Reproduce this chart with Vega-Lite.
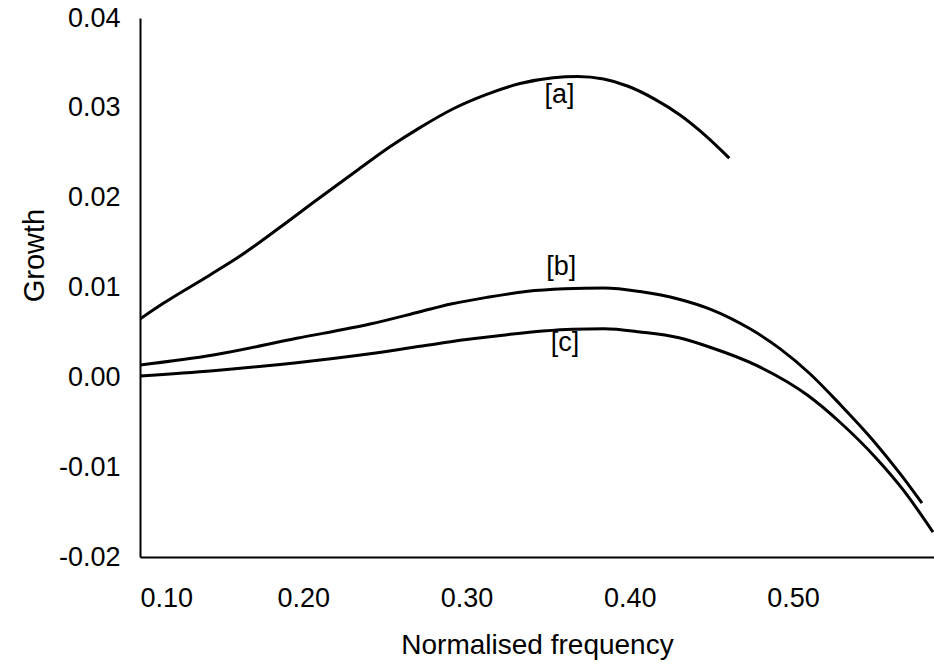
{
  "$schema": "https://vega.github.io/schema/vega-lite/v6.json",
  "width": 794,
  "height": 539,
  "autosize": {"type": "none"},
  "padding": {"left": 140, "top": 18, "right": 0, "bottom": 109},
  "background": "white",
  "config": {
    "view": {"stroke": null},
    "font": "Liberation Sans",
    "axis": {
      "grid": false,
      "domainColor": "black",
      "domainWidth": 2,
      "ticks": false,
      "labelColor": "black",
      "titleColor": "black",
      "labelFont": "Liberation Sans",
      "titleFont": "Liberation Sans",
      "titleFontWeight": "normal"
    }
  },
  "datasets": {
    "curves": [
      {"curve": "a", "f": 0.1000, "g": 0.00650},
      {"curve": "a", "f": 0.1143, "g": 0.00824},
      {"curve": "a", "f": 0.1429, "g": 0.01140},
      {"curve": "a", "f": 0.1613, "g": 0.01350},
      {"curve": "a", "f": 0.1858, "g": 0.01670},
      {"curve": "a", "f": 0.2082, "g": 0.01974},
      {"curve": "a", "f": 0.2327, "g": 0.02300},
      {"curve": "a", "f": 0.2531, "g": 0.02567},
      {"curve": "a", "f": 0.2715, "g": 0.02780},
      {"curve": "a", "f": 0.2919, "g": 0.02990},
      {"curve": "a", "f": 0.3124, "g": 0.03150},
      {"curve": "a", "f": 0.3328, "g": 0.03270},
      {"curve": "a", "f": 0.3532, "g": 0.03335},
      {"curve": "a", "f": 0.3680, "g": 0.03348},
      {"curve": "a", "f": 0.3840, "g": 0.03320},
      {"curve": "a", "f": 0.3990, "g": 0.03240},
      {"curve": "a", "f": 0.4150, "g": 0.03100},
      {"curve": "a", "f": 0.4308, "g": 0.02920},
      {"curve": "a", "f": 0.4471, "g": 0.02680},
      {"curve": "a", "f": 0.4610, "g": 0.02440},
      {"curve": "b", "f": 0.1000, "g": 0.00137},
      {"curve": "b", "f": 0.1449, "g": 0.00248},
      {"curve": "b", "f": 0.1960, "g": 0.00434},
      {"curve": "b", "f": 0.2409, "g": 0.00593},
      {"curve": "b", "f": 0.2715, "g": 0.00730},
      {"curve": "b", "f": 0.2905, "g": 0.00816},
      {"curve": "b", "f": 0.3124, "g": 0.00890},
      {"curve": "b", "f": 0.3364, "g": 0.00955},
      {"curve": "b", "f": 0.3600, "g": 0.00985},
      {"curve": "b", "f": 0.3842, "g": 0.00994},
      {"curve": "b", "f": 0.4063, "g": 0.00955},
      {"curve": "b", "f": 0.4302, "g": 0.00870},
      {"curve": "b", "f": 0.4492, "g": 0.00760},
      {"curve": "b", "f": 0.4737, "g": 0.00540},
      {"curve": "b", "f": 0.4920, "g": 0.00320},
      {"curve": "b", "f": 0.5104, "g": 0.00040},
      {"curve": "b", "f": 0.5288, "g": -0.00300},
      {"curve": "b", "f": 0.5490, "g": -0.00700},
      {"curve": "b", "f": 0.5655, "g": -0.01070},
      {"curve": "b", "f": 0.5790, "g": -0.01400},
      {"curve": "c", "f": 0.1000, "g": 0.00014},
      {"curve": "c", "f": 0.1449, "g": 0.00074},
      {"curve": "c", "f": 0.1960, "g": 0.00163},
      {"curve": "c", "f": 0.2409, "g": 0.00262},
      {"curve": "c", "f": 0.2715, "g": 0.00345},
      {"curve": "c", "f": 0.2999, "g": 0.00420},
      {"curve": "c", "f": 0.3250, "g": 0.00475},
      {"curve": "c", "f": 0.3469, "g": 0.00515},
      {"curve": "c", "f": 0.3650, "g": 0.00535},
      {"curve": "c", "f": 0.3842, "g": 0.00540},
      {"curve": "c", "f": 0.4063, "g": 0.00505},
      {"curve": "c", "f": 0.4302, "g": 0.00440},
      {"curve": "c", "f": 0.4492, "g": 0.00335},
      {"curve": "c", "f": 0.4780, "g": 0.00130},
      {"curve": "c", "f": 0.5090, "g": -0.00200},
      {"curve": "c", "f": 0.5288, "g": -0.00500},
      {"curve": "c", "f": 0.5510, "g": -0.00900},
      {"curve": "c", "f": 0.5674, "g": -0.01250},
      {"curve": "c", "f": 0.5858, "g": -0.01723}
    ],
    "labels": [
      {"text": "[a]", "f": 0.3570, "g": 0.0314},
      {"text": "[b]", "f": 0.3580, "g": 0.0123},
      {"text": "[c]", "f": 0.3604, "g": 0.0038}
    ]
  },
  "layer": [
    {
      "data": {"name": "curves"},
      "mark": {"type": "line", "color": "black", "strokeWidth": 3, "interpolate": "monotone", "clip": true},
      "encoding": {
        "x": {
          "field": "f", "type": "quantitative",
          "scale": {"domain": [0.1, 0.5864], "nice": false, "zero": false},
          "axis": {
            "values": [0.1, 0.2, 0.3, 0.4, 0.5],
            "format": ".2f",
            "labelFontSize": 27,
            "labelPadding": 28,
            "title": "Normalised frequency",
            "titleFontSize": 28,
            "titlePadding": 20
          }
        },
        "y": {
          "field": "g", "type": "quantitative",
          "scale": {"domain": [-0.02, 0.04], "nice": false, "zero": false},
          "axis": {
            "values": [-0.02, -0.01, 0, 0.01, 0.02, 0.03, 0.04],
            "labelExpr": "replace(format(datum.value, '.2f'), '\u2212', '-')",
            "labelFontSize": 27,
            "labelPadding": 20,
            "title": "Growth",
            "titleFontSize": 29,
            "titlePadding": 9,
            "titleY": 237
          }
        },
        "detail": {"field": "curve", "type": "nominal"}
      }
    },
    {
      "data": {"name": "labels"},
      "mark": {"type": "text", "color": "black", "fontSize": 27, "align": "center", "baseline": "middle"},
      "encoding": {
        "x": {"field": "f", "type": "quantitative"},
        "y": {"field": "g", "type": "quantitative"},
        "text": {"field": "text"}
      }
    },
    {
      "mark": {"type": "rule", "color": "black", "strokeWidth": 2},
      "encoding": {"y": {"datum": 0.04}}
    }
  ]
}
